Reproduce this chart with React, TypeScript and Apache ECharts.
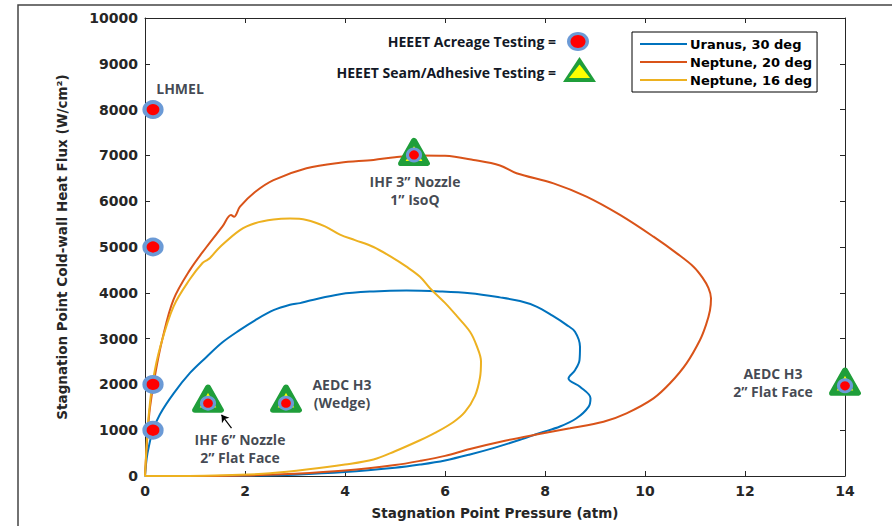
import React, { useEffect, useRef } from "react";
import * as echarts from "echarts";

// ---- data (pressure atm, heat flux W/cm2) ----
const uranus30: number[][] = [
  [0, 0], [0.05, 500], [0.16, 1000], [0.3, 1350], [0.57, 1800], [0.9, 2250], [1.23, 2600],
  [1.55, 2920], [1.9, 3190], [2.2, 3400], [2.57, 3620], [2.9, 3740], [3.1, 3775], [3.3, 3830],
  [3.9, 3970], [4.57, 4030], [5.23, 4050], [5.9, 4030], [6.5, 3990], [7.1, 3900], [7.5, 3820],
  [7.83, 3700], [8.15, 3500], [8.43, 3300], [8.6, 3150], [8.7, 2820], [8.69, 2530], [8.6, 2310],
  [8.47, 2130], [8.7, 1950], [8.91, 1700], [8.87, 1510], [8.63, 1260], [8.3, 1080], [7.9, 940],
  [7.5, 790], [7.0, 620], [6.5, 470], [6.0, 340], [5.5, 250], [5.0, 180], [4.0, 85], [3.0, 30],
  [2.0, 5], [1.5, 0], [0.5, 0], [0, 0],
];

const neptune20: number[][] = [
  [0, 0], [0.05, 900], [0.1, 1500], [0.2, 2200], [0.35, 3000], [0.57, 3850], [0.9, 4500],
  [1.23, 5000], [1.55, 5450], [1.72, 5700], [1.78, 5660], [1.9, 5880], [2.2, 6200], [2.57, 6460],
  [3.23, 6720], [3.9, 6840], [4.57, 6900], [5.0, 6960], [5.5, 7000], [6.0, 6990], [6.57, 6900],
  [7.1, 6780], [7.43, 6610], [8.17, 6390], [8.83, 6100], [9.5, 5700], [10.17, 5225],
  [10.65, 4850], [10.97, 4570], [11.15, 4330], [11.27, 4100], [11.32, 3880], [11.3, 3620],
  [11.22, 3300], [11.1, 2970], [10.83, 2460], [10.5, 2024], [10.17, 1696], [9.63, 1369],
  [9.17, 1186], [8.5, 1041], [7.8, 900], [7.2, 770], [6.5, 590], [6.0, 440], [5.5, 330],
  [5.0, 240], [4.0, 120], [3.0, 50], [2.0, 10], [1.2, 0], [0.5, 0], [0, 0],
];

const neptune16: number[][] = [
  [0, 0], [0.05, 1000], [0.1, 1600], [0.16, 2100], [0.3, 2800], [0.57, 3700], [0.9, 4300],
  [1.15, 4650], [1.25, 4720], [1.3, 4760], [1.5, 5000], [1.9, 5370], [2.2, 5520], [2.57, 5600],
  [2.9, 5620], [3.23, 5590], [3.6, 5450], [3.9, 5270], [4.2, 5150], [4.57, 5000], [4.9, 4800],
  [5.23, 4570], [5.5, 4350], [5.7, 4100], [6.0, 3780], [6.23, 3500], [6.5, 3150], [6.63, 2850],
  [6.72, 2500], [6.7, 2150], [6.6, 1750], [6.4, 1400], [6.17, 1180], [5.8, 940], [5.5, 780],
  [5.0, 540], [4.57, 360], [4.0, 250], [3.23, 140], [2.5, 60], [1.9, 25], [1.2, 5], [0.5, 0],
  [0, 0],
];

const seriesNames = ["Uranus, 30 deg", "Neptune, 20 deg", "Neptune, 16 deg"];
const seriesColors = ["#0072BD", "#D95319", "#EDB120"];

// HEEET acreage tests (stand-alone circles)
const acreageTests: number[][] = [[0.16, 8000], [0.16, 5000], [0.16, 2000], [0.16, 1000]];
// HEEET acreage tests shown inside seam tests
const acreageInSeam: number[][] = [[1.26, 1590], [2.82, 1590], [5.38, 7010], [14, 1970]];
// HEEET seam/adhesive tests (triangles)
const seamTests: number[][] = [[1.26, 1690], [2.82, 1690], [5.38, 7075], [14, 2060]];

const annotationPoints: number[][] = [[0.7, 8450], [5.4, 6223], [3.94, 1812], [1.9, 590], [12.56, 2052]];
const annotationTexts = [
  "LHMEL",
  "IHF 3\u201D Nozzle\n1\u201D IsoQ",
  "AEDC H3\n(Wedge)",
  "IHF 6\u201D Nozzle\n2\u201D Flat Face",
  "AEDC H3\n2\u201D Flat Face",
];
const arrowFrom = [1.73, 1045];
const arrowTo = [1.53, 1335];

const xMin = 0, xMax = 14, xInterval = 2;
const yMin = 0, yMax = 10000, yInterval = 1000;

const AX_FONT = "DejaVu Sans";
const ANN_FONT = "Open Sans";
const ANN_COLOR = "#121826";
const CIRCLE_RING = "#6b9ad6";

export default function App() {
  const ref = useRef<HTMLDivElement>(null);
  useEffect(() => {
    if (!ref.current) return;
    const chart = echarts.init(ref.current, null, { renderer: "svg" });

    const axisCommon = {
      type: "value" as const,
      axisLine: { show: true, onZero: false, lineStyle: { color: "#262626", width: 1 } },
      axisTick: { show: true, inside: true, length: 5, lineStyle: { color: "#262626" } },
      splitLine: { show: false },
    };
    const plain = (v: number) => String(v);

    const option: any = {
      animation: false,
      backgroundColor: "#ffffff",
      grid: { left: 145, right: 47, top: 18, bottom: 50, containLabel: false },
      xAxis: [
        {
          ...axisCommon,
          min: xMin, max: xMax, interval: xInterval, position: "bottom",
          axisLabel: { formatter: plain, fontFamily: AX_FONT, fontWeight: "bold", fontSize: 14, color: "#262626", margin: 8 },
          name: "Stagnation Point Pressure (atm)",
          nameLocation: "middle",
          nameGap: 30,
          nameTextStyle: { fontFamily: AX_FONT, fontWeight: "bold", fontSize: 13.5, color: "#262626" },
        },
        { ...axisCommon, min: xMin, max: xMax, interval: xInterval, position: "top", axisLabel: { show: false } },
      ],
      yAxis: [
        {
          ...axisCommon,
          min: yMin, max: yMax, interval: yInterval, position: "left",
          axisLabel: { formatter: plain, fontFamily: AX_FONT, fontWeight: "bold", fontSize: 14, color: "#262626", margin: 7 },
          name: "Stagnation Point Cold-wall Heat Flux (W/cm\u00B2)",
          nameLocation: "middle",
          nameGap: 76,
          nameTextStyle: { fontFamily: AX_FONT, fontWeight: "bold", fontSize: 13.5, color: "#262626" },
        },
        { ...axisCommon, min: yMin, max: yMax, interval: yInterval, position: "right", axisLabel: { show: false } },
      ],
      legend: {
        data: seriesNames.map((n) => ({ name: n, icon: "rect" })),
        orient: "vertical",
        left: 632,
        top: 32,
        borderColor: "#000",
        borderWidth: 1,
        borderRadius: 0,
        padding: [3, 5, 3, 8],
        itemWidth: 47,
        itemHeight: 2,
        itemGap: 0,
        backgroundColor: "#fff",
        textStyle: { fontFamily: AX_FONT, fontWeight: "bold", fontSize: 13, lineHeight: 18, color: "#000", padding: [0, 0, 0, -2] },
      },
      series: [
        ...[uranus30, neptune20, neptune16].map((d, i) => ({
          type: "line",
          name: seriesNames[i],
          data: d,
          symbol: "none",
          showSymbol: false,
          smooth: 0.35,
          color: seriesColors[i],
          lineStyle: { width: 2, color: seriesColors[i] },
          z: 2,
        })),
        {
          type: "scatter",
          name: "seam",
          data: seamTests,
          symbol: "triangle",
          symbolSize: [26, 23],
          itemStyle: { color: "#ffff00", borderColor: "#1f9e3a", borderWidth: 5.5, borderJoin: "round", opacity: 1 },
          z: 3,
        },
        {
          type: "scatter",
          name: "acreageInSeam",
          data: acreageInSeam,
          symbol: "circle",
          symbolSize: [13, 12],
          itemStyle: { color: "#ff0000", borderColor: CIRCLE_RING, borderWidth: 3, opacity: 1 },
          z: 4,
        },
        {
          type: "scatter",
          name: "acreage",
          data: acreageTests,
          symbol: "circle",
          symbolSize: [17, 15],
          itemStyle: { color: "#ff0000", borderColor: CIRCLE_RING, borderWidth: 4, opacity: 1 },
          z: 4,
        },
        {
          type: "scatter",
          name: "annotations",
          data: annotationPoints.map((p, i) => ({ value: p, name: annotationTexts[i] })),
          symbolSize: 1,
          itemStyle: { color: "rgba(0,0,0,0)" },
          label: {
            show: true,
            position: "inside",
            formatter: (p: any) => p.name,
            fontFamily: ANN_FONT,
            fontWeight: "bold",
            fontSize: 14,
            lineHeight: 18,
            color: ANN_COLOR,
            align: "center",
            verticalAlign: "middle",
          },
          markLine: {
            silent: true,
            symbol: ["none", "arrow"],
            symbolSize: 7,
            label: { show: false },
            lineStyle: { color: "#000", width: 1.2, type: "solid" },
            data: [[{ coord: arrowFrom }, { coord: arrowTo }]],
          },
          z: 5,
        },
      ],
      graphic: [
        {
          type: "rect",
          shape: { x: 18, y: 5, width: 900, height: 600 },
          style: { fill: "none", stroke: "#444", lineWidth: 1.5 },
          silent: true,
          z: 0,
        },
        {
          type: "text",
          x: 556, y: 41,
          style: {
            text: "HEEET Acreage Testing =",
            fontFamily: ANN_FONT, fontWeight: "bold", fontSize: 14, fill: ANN_COLOR,
            align: "right", verticalAlign: "middle",
          },
        },
        {
          type: "text",
          x: 556, y: 72,
          style: {
            text: "HEEET Seam/Adhesive Testing =",
            fontFamily: ANN_FONT, fontWeight: "bold", fontSize: 14, fill: ANN_COLOR,
            align: "right", verticalAlign: "middle",
          },
        },
        { type: "ellipse", shape: { cx: 578, cy: 41.5, rx: 11, ry: 9.5 }, style: { fill: CIRCLE_RING } },
        { type: "ellipse", shape: { cx: 578, cy: 41.5, rx: 7.5, ry: 6.5 }, style: { fill: "#ff0000" } },
        { type: "polygon", shape: { points: [[579.5, 57], [563, 82], [596, 82]] }, style: { fill: "#1f9e3a" } },
        { type: "polygon", shape: { points: [[579.5, 64.5], [569, 78], [590, 78]] }, style: { fill: "#ffff00" } },
      ],
    };

    chart.setOption(option);
    return () => chart.dispose();
  }, []);

  return (
    <div
      ref={ref}
      style={{ position: "absolute", left: 0, top: 0, width: 892, height: 526, background: "#fff" }}
    />
  );
}
